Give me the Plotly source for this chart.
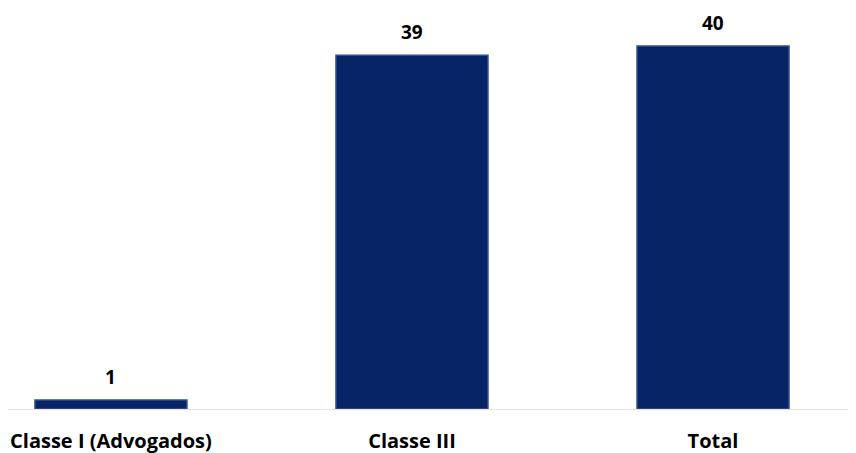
import plotly.graph_objects as go

categories = ["Classe I (Advogados)", "Classe III", "Total"]
values = [1, 39, 40]

fig = go.Figure()
fig.add_trace(go.Bar(
    x=categories, y=values, width=0.505,
    marker=dict(color="#072566", line=dict(color="#34508c", width=1.5)),
    hoverinfo="x+y",
))
for c, v in zip(categories, values):
    fig.add_annotation(x=c, y=v, text=f"<b>{v}</b>", showarrow=False,
                       yshift=23, font=dict(family="Open Sans", size=19, color="#000000"))

# page has an 8px body margin; figure is sized to fill the remaining window
fig.update_layout(
    width=848, height=445,
    margin=dict(l=0, r=0, t=0, b=44, autoexpand=False),
    plot_bgcolor="white", paper_bgcolor="white",
    showlegend=False,
    xaxis=dict(range=[-0.342, 2.475], showline=True, linecolor="#e4e4e4", linewidth=1,
               ticks="", tickfont=dict(family="Open Sans", size=20, color="#000000"),
               ticklabelstandoff=14, showgrid=False, automargin=False),
    yaxis=dict(range=[0, 44.2], visible=False, showgrid=False, automargin=False),
)
fig.update_xaxes(tickvals=categories, ticktext=[f"<b>{c}</b>" for c in categories])
fig.write_html("out.html")
